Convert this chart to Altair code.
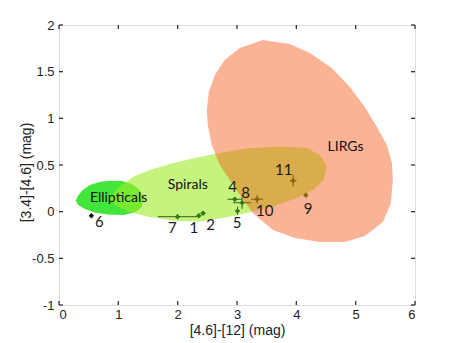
import altair as alt
import pandas as pd

# ---- region outlines (data coordinates) ----
lirg_x = [3.435, 3.890, 4.228, 4.599, 4.902, 5.155, 5.358, 5.526, 5.611, 5.627, 5.594, 5.459,
          5.155, 4.818, 4.397, 3.975, 3.604, 3.266, 3.047, 2.879, 2.710, 2.575, 2.508, 2.491,
          2.525, 2.626, 2.794, 3.047]
lirg_y = [1.840, 1.797, 1.701, 1.540, 1.337, 1.122, 0.908, 0.715, 0.522, 0.340, 0.093, -0.110,
          -0.260, -0.325, -0.325, -0.282, -0.196, -0.014, 0.179, 0.340, 0.501, 0.715, 0.929, 1.090,
          1.283, 1.465, 1.626, 1.754]

spiral_x = [0.855, 1.024, 1.277, 1.530, 1.867, 2.288, 2.710, 3.165, 3.722, 4.177, 4.396, 4.514,
            4.464, 4.278, 4.009, 3.604, 3.165, 2.761, 2.373, 1.951, 1.530, 1.192, 0.939]
spiral_y = [0.147, 0.275, 0.383, 0.447, 0.511, 0.575, 0.629, 0.677, 0.699, 0.683, 0.608, 0.490,
            0.340, 0.233, 0.147, 0.056, -0.014, -0.068, -0.105, -0.100, -0.057, -0.003, 0.072]

ell_x = [0.282, 0.320, 0.400, 0.520, 0.680, 0.855, 1.057, 1.226, 1.361, 1.428, 1.395, 1.293,
         1.091, 0.821, 0.602, 0.430, 0.320]
ell_y = [0.115, 0.170, 0.232, 0.285, 0.318, 0.332, 0.329, 0.297, 0.233, 0.147, 0.050, -0.003,
         -0.035, -0.030, -0.010, 0.030, 0.075]

# ---- galaxies ----
ids = ["1", "2", "4", "5", "6", "7", "8", "9", "10", "11"]
gx = [2.356, 2.428, 2.963, 3.008, 0.546, 1.997, 3.086, 4.160, 3.339, 3.946]
gy = [-0.043, -0.017, 0.133, 0.008, -0.043, -0.054, 0.096, 0.176, 0.133, 0.332]
xerr = [0.04, 0.04, 0.12, 0.03, 0.0, 0.33, 0.15, 0.0, 0.10, 0.056]
yerr = [0.02, 0.02, 0.02, 0.045, 0.0, 0.03, 0.065, 0.0, 0.045, 0.063]
lab_x = [2.272, 2.553, 2.924, 3.002, 0.681, 1.912, 3.143, 4.199, 3.469, 3.789]
lab_y = [-0.178, -0.143, 0.268, -0.124, -0.107, -0.178, 0.204, 0.026, 0.011, 0.447]
kind = ["g", "g", "g", "g", "e", "g", "g", "g", "g", "g"]

region_names = ["Ellipticals", "Spirals", "LIRGs"]
region_lx = [1.004, 2.171, 4.829]
region_ly = [0.146, 0.286, 0.697]

x_ticks = [0, 1, 2, 3, 4, 5, 6]
y_ticks = [-1, -0.5, 0, 0.5, 1, 1.5, 2]

W, H = 356, 280
xs = alt.Scale(domain=[0, 6], nice=False, zero=False)
ys = alt.Scale(domain=[-1, 2], nice=False, zero=False)

axis_common = dict(grid=False, domain=False, ticks=False, tickSize=0,
                   labelFont="Liberation Sans", labelFontSize=13, labelColor="#222",
                   titleFont="Liberation Sans", titleFontSize=14, titleFontWeight="normal",
                   titleColor="#222", labelExpr="'' + datum.value")

def poly(xv, yv):
    return pd.DataFrame({"x": xv, "y": yv, "i": list(range(len(xv)))})

def shape(df, color, opacity):
    return alt.Chart(df).mark_line(fill=color, fillOpacity=opacity, strokeWidth=0,
                                   strokeOpacity=0).encode(
        x=alt.X("x:Q", scale=xs,
                axis=alt.Axis(values=x_ticks, title="[4.6]-[12] (mag)", labelPadding=3,
                              titlePadding=2, **axis_common)),
        y=alt.Y("y:Q", scale=ys,
                axis=alt.Axis(values=y_ticks, title="[3.4]-[4.6] (mag)", labelPadding=5,
                              titleX=-33, titleY=147, titleBaseline="middle", titleAlign="center",
                              titleAngle=270, **axis_common)),
        order="i:Q",
    )

ell = shape(poly(ell_x, ell_y), "#42e63a", 1.0)
spi = shape(poly(spiral_x, spiral_y), "#9ded28", 0.6)
lir = shape(poly(lirg_x, lirg_y), "#f64f0c", 0.43)

gal = pd.DataFrame({"id": ids, "x": gx, "y": gy, "xerr": xerr, "yerr": yerr,
                    "lx": lab_x, "ly": lab_y, "kind": kind})
gal["xlo"] = gal.x - gal.xerr
gal["xhi"] = gal.x + gal.xerr
gal["ylo"] = gal.y - gal.yerr
gal["yhi"] = gal.y + gal.yerr
galerr = gal[gal.xerr > 0]

hbar = alt.Chart(galerr).mark_rule(color="#3d5a22", strokeWidth=1).encode(
    x=alt.X("xlo:Q", scale=xs), x2="xhi:Q", y=alt.Y("y:Q", scale=ys))
vbar = alt.Chart(galerr).mark_rule(color="#3d5a22", strokeWidth=1).encode(
    x=alt.X("x:Q", scale=xs), y=alt.Y("ylo:Q", scale=ys), y2="yhi:Q")
pts = alt.Chart(gal).mark_point(shape="diamond", filled=True, size=30, opacity=1).encode(
    x=alt.X("x:Q", scale=xs), y=alt.Y("y:Q", scale=ys),
    color=alt.Color("kind:N", scale=alt.Scale(domain=["g", "e"], range=["#357814", "#111111"]),
                    legend=None))
labs = alt.Chart(gal).mark_text(font="Lato", fontSize=15, color="#1a1a1a").encode(
    x=alt.X("lx:Q", scale=xs), y=alt.Y("ly:Q", scale=ys), text="id:N")

reg = pd.DataFrame({"name": region_names, "x": region_lx, "y": region_ly})
reglabs = alt.Chart(reg).mark_text(font="Lato", fontSize=14, color="#111").encode(
    x=alt.X("x:Q", scale=xs), y=alt.Y("y:Q", scale=ys), text="name:N")

# inward ticks on all four sides of the frame
tl = 4
xt = pd.DataFrame({"t": x_ticks})
yt = pd.DataFrame({"t": y_ticks})
tick_style = dict(color="#333", strokeWidth=1.3)
bt = alt.Chart(xt).mark_rule(**tick_style).encode(x=alt.X("t:Q", scale=xs), y=alt.value(H), y2=alt.value(H - tl))
tt = alt.Chart(xt).mark_rule(**tick_style).encode(x=alt.X("t:Q", scale=xs), y=alt.value(0), y2=alt.value(tl))
lt = alt.Chart(yt).mark_rule(**tick_style).encode(y=alt.Y("t:Q", scale=ys), x=alt.value(0), x2=alt.value(tl))
rt = alt.Chart(yt).mark_rule(**tick_style).encode(y=alt.Y("t:Q", scale=ys), x=alt.value(W), x2=alt.value(W - tl))

chart = alt.layer(ell, spi, hbar, vbar, pts, lir, labs, reglabs, bt, tt, lt, rt).properties(
    width=W, height=H,
    padding={"left": 51, "top": 17, "right": 30, "bottom": 38},
    autosize=alt.AutoSizeParams(type="none"),
).configure_view(stroke="#333", strokeWidth=1.6).configure(background="white")

chart.save("out.html", embed_options={"renderer": "svg", "actions": False})
